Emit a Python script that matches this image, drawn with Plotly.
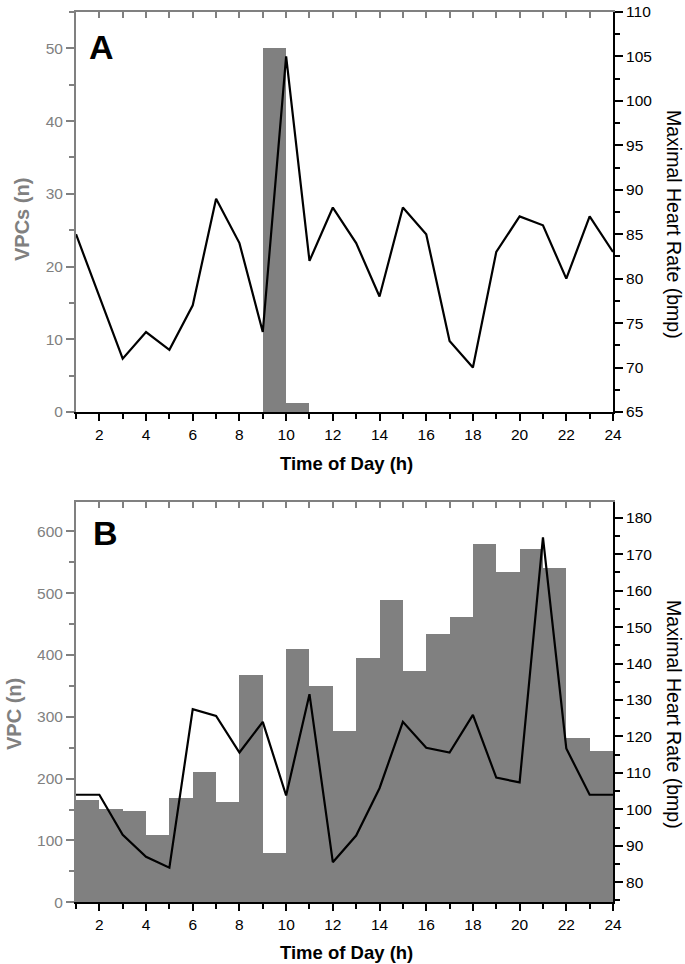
import plotly.graph_objects as go

W, H = 685, 964

# ---------------- data ----------------
hours = list(range(1, 25))            # line points (hour of day)
bar_start = list(range(1, 24))        # bars span [h, h+1]

vpc_a = [0, 0, 0, 0, 0, 0, 0, 0, 50, 1.2, 0, 0, 0, 0, 0, 0, 0, 0, 0, 0, 0, 0, 0]
hr_a = [85, 78, 71, 74, 72, 77, 89, 84, 74, 105, 82, 88, 84, 78, 88, 85,
        73, 70, 83, 87, 86, 80, 87, 83]

vpc_b = [166, 152, 148, 110, 169, 211, 163, 368, 80, 410, 350, 278, 396, 490,
         374, 434, 462, 580, 535, 572, 542, 267, 246]
hr_b = [104, 104, 93, 87, 84, 127.5, 125.6, 115.6, 124, 103.8, 131.6, 85.5,
        92.8, 105.8, 124, 116.9, 115.6, 125.9, 108.7, 107.4, 174.6, 116.7, 104, 104]

x_ticks = [2, 4, 6, 8, 10, 12, 14, 16, 18, 20, 22, 24]
x_tick_text = ["2", "4", "6", "8", "10", "12", "14", "16", "18", "20", "22", "24"]

# ---------------- layout geometry (pixels) ----------------
PL, PR = 76, 613
A_TOP, A_BOT = 12, 412
B_TOP, B_BOT = 501.7, 902.3


def px(x):
    return x / W


def py(y):
    return 1 - y / H


GRAY = "#808080"
FONT = "Liberation Sans, Arial, sans-serif"
TICKFONT = 15.5

fig = go.Figure()

# Panel A
fig.add_trace(go.Bar(x=bar_start, y=vpc_a, offset=0, width=1, marker=dict(color=GRAY, line=dict(width=0)),
                     xaxis="x", yaxis="y", showlegend=False))
fig.add_trace(go.Scatter(x=hours, y=hr_a, mode="lines", line=dict(color="black", width=2.2),
                         xaxis="x", yaxis="y2", showlegend=False))
# Panel B
fig.add_trace(go.Bar(x=bar_start, y=vpc_b, offset=0, width=1, marker=dict(color=GRAY, line=dict(width=0)),
                     xaxis="x2", yaxis="y3", showlegend=False))
fig.add_trace(go.Scatter(x=hours, y=hr_b, mode="lines", line=dict(color="black", width=2.2),
                         xaxis="x2", yaxis="y4", showlegend=False))

xdom = [px(PL), px(PR)]


def bottom_x(anchor):
    return dict(domain=xdom, anchor=anchor, range=[1, 24], showgrid=False, zeroline=False,
                automargin=False,
                showline=True, linecolor="black", linewidth=2,
                ticks="outside", ticklen=7, tickwidth=2, tickcolor="black",
                tickvals=x_ticks, ticktext=x_tick_text,
                tickfont=dict(family=FONT, size=TICKFONT, color="black"),
                minor=dict(dtick=1, tick0=1, ticks="outside", ticklen=5, tickwidth=2, tickcolor="black"))


def top_x(overlay, anchor):
    return dict(domain=xdom, overlaying=overlay, anchor=anchor, side="top", range=[1, 24],
                automargin=False,
                showgrid=False, zeroline=False, showline=True, linecolor=GRAY, linewidth=2,
                ticks="inside", ticklen=6, tickwidth=2, tickcolor=GRAY, dtick=1, tick0=1,
                showticklabels=False)


def left_y(dom, rng, dtick, minor, anchor):
    return dict(domain=dom, anchor=anchor, range=rng, showgrid=False, zeroline=False,
                automargin=False,
                showline=True, linecolor=GRAY, linewidth=2,
                ticks="outside", ticklen=8, tickwidth=2, tickcolor=GRAY, dtick=dtick, tick0=0,
                tickfont=dict(family=FONT, size=TICKFONT, color=GRAY),
                minor=dict(dtick=minor, ticks="outside", ticklen=5, tickwidth=2, tickcolor=GRAY))


def right_y(overlay, rng, dtick, minor, anchor, tick0):
    return dict(overlaying=overlay, anchor=anchor, side="right", range=rng, showgrid=False,
                automargin=False,
                zeroline=False, showline=True, linecolor="black", linewidth=2,
                ticks="outside", ticklen=8, tickwidth=2, tickcolor="black", dtick=dtick, tick0=tick0,
                tickfont=dict(family=FONT, size=TICKFONT, color="black"),
                minor=dict(dtick=minor, ticks="outside", ticklen=5, tickwidth=2, tickcolor="black"))


fig.update_layout(
    width=W, height=H, margin=dict(l=0, r=0, t=0, b=0, pad=0),
    paper_bgcolor="white", plot_bgcolor="white",
    bargap=0, barmode="overlay",
    font=dict(family=FONT),
    xaxis=bottom_x("y"),
    xaxis2=bottom_x("y3"),
    xaxis3=top_x("x", "y"),
    xaxis4=top_x("x2", "y3"),
    yaxis=left_y([py(A_BOT), py(A_TOP)], [0, 55], 10, 5, "x"),
    yaxis2=right_y("y", [65, 110], 5, 2.5, "x", 65),
    yaxis3=left_y([py(B_BOT), py(B_TOP)], [0, 648], 100, 50, "x2"),
    yaxis4=right_y("y3", [74.5, 184.4], 10, 5, "x2", 80),
)

# invisible traces to activate the top border axes
fig.add_trace(go.Scatter(x=[1], y=[0], mode="markers", marker=dict(opacity=0), xaxis="x3", yaxis="y",
                         showlegend=False, hoverinfo="skip"))
fig.add_trace(go.Scatter(x=[1], y=[0], mode="markers", marker=dict(opacity=0), xaxis="x4", yaxis="y3",
                         showlegend=False, hoverinfo="skip"))

ann = []


def text(x, y, s, size, color="black", bold=False, angle=0):
    ann.append(dict(x=px(x), y=py(y), xref="paper", yref="paper", text=f"<b>{s}</b>" if bold else s,
                    showarrow=False, textangle=angle, xanchor="center", yanchor="middle",
                    font=dict(family=FONT, size=size, color=color)))


text(101, 46.7, "A", 34, bold=True)
text(105, 533, "B", 34, bold=True)
text(346, 463, "Time of Day (h)", 18.5, bold=True)
text(346, 952, "Time of Day (h)", 18.5, bold=True)
text(22, 220, "VPCs (n)", 20, color=GRAY, bold=True, angle=-90)
text(14, 714, "VPC (n)", 20, color=GRAY, bold=True, angle=-90)
text(674, 224, "Maximal Heart Rate (bmp)", 19.5, angle=90)
text(674, 714, "Maximal Heart Rate (bmp)", 19.5, angle=90)

fig.update_layout(annotations=ann)

fig.write_html(
    "out.html",
    config={"displayModeBar": False},
    post_script="document.body.style.margin='0px';document.body.style.overflow='hidden';",
)
